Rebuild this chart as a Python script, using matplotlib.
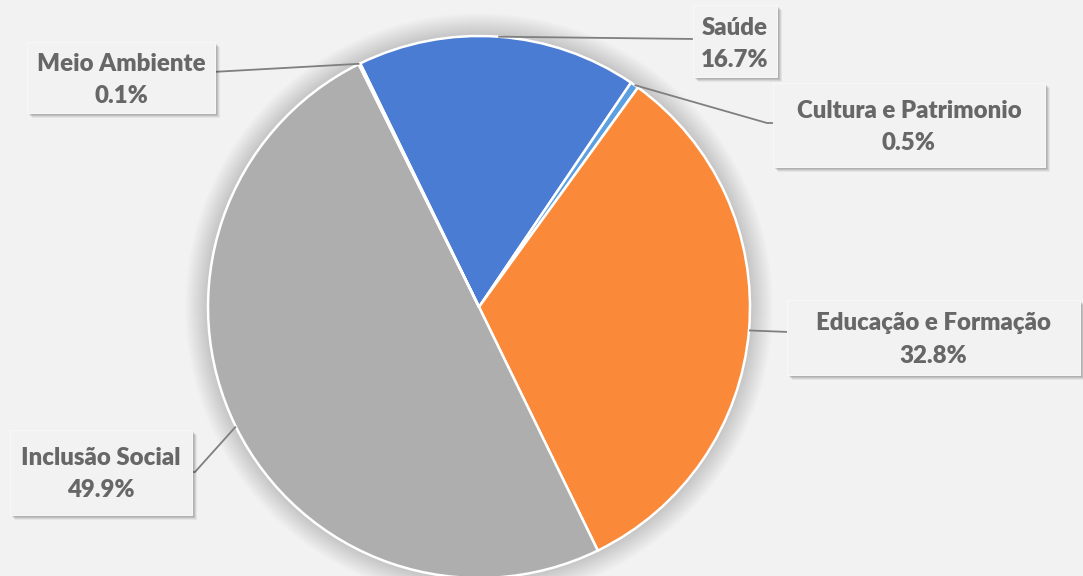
import matplotlib
matplotlib.use("Agg")
import matplotlib.pyplot as plt
import numpy as np
from matplotlib.patches import Circle, Rectangle

# ── Data ─────────────────────────────────────────────────────────────────────
categories = ["Saúde", "Cultura e Patrimonio", "Educação e Formação",
              "Inclusão Social", "Meio Ambiente"]
shares = [16.7, 0.5, 32.8, 49.9, 0.1]
colors = ["#4A7CD4", "#5CA0DF", "#FA8A3A", "#AEAEAE", "#FFC000"]

# ── Layout (pixels, origin top-left) ─────────────────────────────────────────
W, H = 1083, 576
CENTER = (479, 307)
RADIUS = 271
BG = "#F2F2F2"
TEXT = "#676767"
LINE = "#7F7F7F"

# label box (x0, y0, x1, y1), baselines of the two text lines, leader path
label_boxes = {
    "Saúde": ((693, 5, 777, 77), (35, 67), [(695, 39)]),
    "Cultura e Patrimonio": ((773, 83, 1045, 167), (118, 150), [(767, 123), (777, 123)]),
    "Educação e Formação": ((787, 300, 1080, 375), (330, 363), [(789, 332)]),
    "Inclusão Social": ((10, 430, 192, 515), (465, 497), [(195, 472), (184, 472)]),
    "Meio Ambiente": ((27, 42, 215, 113), (71, 103), [(212, 72)]),
}


def py(y):
    return H - y


fig = plt.figure(figsize=(W / 100, H / 100), dpi=100, facecolor=BG)
ax = fig.add_axes([0, 0, 1, 1])
ax.set_facecolor(BG)

# soft shadow halo behind the pie
for k in range(1, 24):
    ax.add_patch(Circle((CENTER[0], py(CENTER[1])), RADIUS + k,
                        color="black", alpha=0.008, lw=0, zorder=1))

wedges, _ = ax.pie(shares, colors=colors, startangle=116, counterclock=False,
                   center=(CENTER[0], py(CENTER[1])), radius=RADIUS,
                   wedgeprops=dict(edgecolor="white", linewidth=1.8))
for w in wedges:
    w.set_zorder(3)

for w, name, val in zip(wedges, categories, shares):
    (x0, y0, x1, y1), (b1, b2), path = label_boxes[name]

    # leader line from the wedge midpoint on the rim to the box
    mid = np.deg2rad((w.theta1 + w.theta2) / 2)
    sx = CENTER[0] + RADIUS * np.cos(mid)
    sy = py(CENTER[1]) + RADIUS * np.sin(mid)
    xs = [sx] + [p[0] for p in path]
    ys = [sy] + [py(p[1]) for p in path]
    ax.plot(xs, ys, color=LINE, lw=1.3, zorder=4, solid_capstyle="butt")

    # box shadow then box
    for k, a in ((5, 0.05), (4, 0.07), (3, 0.09), (2, 0.1)):
        ax.add_patch(Rectangle((x0 + k, py(y1) - k), x1 - x0, y1 - y0,
                               facecolor="black", alpha=a, lw=0, zorder=5))
    ax.add_patch(Rectangle((x0, py(y1)), x1 - x0, y1 - y0,
                           facecolor=BG, edgecolor="#F7F7F7", lw=0.8, zorder=6))

    cx = (x0 + x1) / 2
    ax.text(cx, py(b1), name, ha="center", va="baseline", fontsize=17.3,
            fontweight="heavy", family="Lato", color=TEXT, zorder=7)
    ax.text(cx, py(b2), f"{val:.1f}%", ha="center", va="baseline", fontsize=17.3,
            fontweight="heavy", family="Lato", color=TEXT, zorder=7)

ax.set_xlim(0, W)
ax.set_ylim(0, H)
ax.set_aspect("auto")
ax.axis("off")

fig.savefig("out.png", dpi=100, facecolor=BG)
